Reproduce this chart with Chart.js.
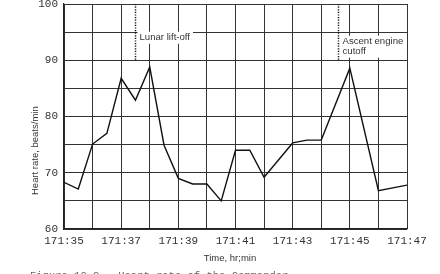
<!DOCTYPE html>
<html>
<head>
<meta charset="utf-8">
<script src="https://cdn.jsdelivr.net/npm/chart.js@4/dist/chart.umd.min.js"></script>
<style>
  html, body { margin: 0; padding: 0; background: #fff; }
  #wrap { width: 440px; height: 274px; position: relative; }
</style>
</head>
<body>
<div id="wrap"><canvas id="heartChart" width="440" height="274"></canvas></div>
<script>
// Time in minutes past hour 171, heart rate in beats/min
const minutes = [35, 35.5, 36, 36.5, 37, 37.5, 38, 38.5, 39, 39.5, 40, 40.5, 41, 41.5, 42, 43, 43.5, 44, 45, 46, 47];
const heartRate = [68.3, 67.1, 75.1, 77, 86.8, 82.9, 88.8, 74.9, 69, 68, 68, 65, 74, 74, 69.2, 75.3, 75.8, 75.8, 88.6, 66.8, 67.8];

const xTickLabels = ["171:35", "171:37", "171:39", "171:41", "171:43", "171:45", "171:47"];
const yTickLabels = ["60", "70", "80", "90", "100"];

// Event markers (dotted lines from the top down to 90)
const eventTimes = [37.5, 44.6];
const eventLabels = [["Lunar lift-off"], ["Ascent engine", "cutoff"]];
const eventLabelAt = [94, 93.3];

const caption = "Figure 10.2.- Heart rate of the Commander";

const tickFont = { family: "'Liberation Mono', 'DejaVu Sans Mono', monospace", size: 11 };

// ---------------- ANNOTATIONS ----------------
const annotate = {
  id: "annotate",
  afterDraw(chart) {
    const { ctx, chartArea, scales: { x, y } } = chart;
    ctx.save();

    eventTimes.forEach((t, i) => {
      const px = Math.round(x.getPixelForValue(t)) + 0.5;
      ctx.strokeStyle = "#111";
      ctx.lineWidth = 1.5;
      ctx.setLineDash([1.2, 1.4]);
      ctx.beginPath();
      ctx.moveTo(px, y.getPixelForValue(100));
      ctx.lineTo(px, y.getPixelForValue(90));
      ctx.stroke();
      ctx.setLineDash([]);

      ctx.font = "9.6px 'Liberation Sans', Arial, sans-serif";
      const lines = eventLabels[i];
      const w = Math.max(...lines.map(l => ctx.measureText(l).width));
      const y0 = y.getPixelForValue(eventLabelAt[i]);
      const boxRight = Math.min(px + w + 7, chartArea.right - 1.5);
      ctx.fillStyle = "#fff";
      ctx.fillRect(px + 2, y0 - 6, boxRight - px - 2, lines.length * 10 + 2);
      ctx.fillStyle = "#333";
      ctx.textBaseline = "middle";
      ctx.textAlign = "left";
      lines.forEach((l, j) => ctx.fillText(l, px + 4, y0 + j * 10));
    });

    // axis titles
    ctx.fillStyle = "#333";
    ctx.font = "9.5px 'Liberation Sans', Arial, sans-serif";
    ctx.textAlign = "center";
    ctx.textBaseline = "middle";
    ctx.fillText("Time, hr;min", 230, 258);

    ctx.save();
    ctx.translate(35, 195);
    ctx.rotate(-Math.PI / 2);
    ctx.textAlign = "left";
    ctx.fillText("Heart rate, beats/min", 0, 0);
    ctx.restore();

    // figure caption, mostly cut off by the bottom edge
    ctx.font = "10.5px 'Liberation Mono', monospace";
    ctx.textAlign = "left";
    ctx.textBaseline = "alphabetic";
    ctx.fillStyle = "#666";
    ctx.fillText(caption, 30, 279);

    ctx.restore();
  }
};

// ---------------- HEART RATE LINE CHART ----------------
function renderHeartRate() {
  const ctx = document.getElementById("heartChart");

  new Chart(ctx, {
    type: "line",
    data: {
      datasets: [{
        data: minutes.map((m, i) => ({ x: m, y: heartRate[i] })),
        borderColor: "#111",
        borderWidth: 1.4,
        pointRadius: 0,
        tension: 0
      }]
    },
    options: {
      responsive: false,
      animation: false,
      events: [],
      layout: { padding: { left: 0, right: 33, top: 4, bottom: 0 } },
      plugins: {
        legend: { display: false },
        tooltip: { enabled: false }
      },
      scales: {
        x: {
          type: "linear",
          min: 35,
          max: 47,
          afterFit: s => { s.height = 45; s.paddingLeft = 0; s.paddingRight = 0; },
          grid: { color: "#333", lineWidth: 1, drawTicks: false },
          border: { color: "#222", width: 1.2 },
          ticks: {
            stepSize: 1,
            autoSkip: false,
            maxRotation: 0,
            padding: 5,
            color: "#333",
            font: tickFont,
            callback: v => (v - 35) % 2 === 0 ? xTickLabels[(v - 35) / 2] : ""
          }
        },
        y: {
          min: 60,
          max: 100,
          afterFit: s => { s.width = 64; s.paddingTop = 0; s.paddingBottom = 0; },
          grid: { color: "#333", lineWidth: 1, drawTicks: false },
          border: { color: "#222", width: 1.2 },
          ticks: {
            stepSize: 5,
            autoSkip: false,
            padding: 6,
            color: "#333",
            font: tickFont,
            callback: v => v % 10 === 0 ? yTickLabels[(v - 60) / 10] : ""
          }
        }
      }
    },
    plugins: [annotate]
  });
}

renderHeartRate();
</script>
</body>
</html>
